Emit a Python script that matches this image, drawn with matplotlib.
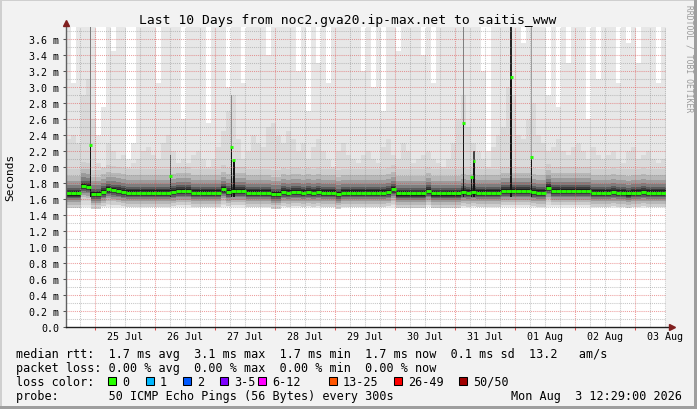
import numpy as np
import matplotlib.pyplot as plt
from matplotlib.patches import Rectangle
from matplotlib.lines import Line2D

W, H = 697, 410
DPI = 100

# canvas position in pixels (rrdtool layout)
PX_LEFT, PX_RIGHT, PX_TOP, PX_BOTTOM = 66, 666, 28, 328

HOURS = 240          # last 10 days
BIN_HOURS = 2
Y_MAX = 3.75         # ms
first_midnight = 11.52   # hours after window start (Jul 24 12:29)

# median rtt per 2h bin (ms), one row per day of the window
median_rtt = [
    1.67, 1.67, 1.67, 1.76, 1.75, 1.66, 1.66, 1.69, 1.72, 1.71, 1.70, 1.69,
    1.68, 1.68, 1.68, 1.68, 1.68, 1.68, 1.68, 1.68, 1.68, 1.69, 1.70, 1.70,
    1.70, 1.68, 1.68, 1.68, 1.68, 1.68, 1.68, 1.72, 1.69, 1.70, 1.70, 1.70,
    1.68, 1.68, 1.68, 1.68, 1.68, 1.66, 1.66, 1.69, 1.68, 1.69, 1.69, 1.68,
    1.69, 1.68, 1.69, 1.68, 1.68, 1.68, 1.66, 1.68, 1.68, 1.68, 1.68, 1.68,
    1.68, 1.68, 1.68, 1.68, 1.69, 1.72, 1.67, 1.67, 1.67, 1.67, 1.67, 1.67,
    1.70, 1.67, 1.67, 1.67, 1.67, 1.67, 1.67, 1.69, 1.68, 1.69, 1.68, 1.68,
    1.68, 1.68, 1.68, 1.70, 1.70, 1.70, 1.70, 1.70, 1.70, 1.69, 1.68, 1.68,
    1.74, 1.70, 1.70, 1.70, 1.70, 1.70, 1.70, 1.70, 1.70, 1.68, 1.68, 1.68,
    1.68, 1.69, 1.68, 1.68, 1.67, 1.68, 1.68, 1.69, 1.68, 1.68, 1.68, 1.68,
]

# top of the outer smoke (max ping) per 2h bin (ms)
smoke_max = [
    3.75, 3.05, 3.75, 3.75, 3.75, 3.75, 2.40, 2.75, 3.75, 3.45, 3.75, 3.75,
    2.10, 2.30, 3.75, 3.75, 3.75, 3.75, 3.05, 3.75, 3.75, 3.75, 3.75, 2.60,
    3.75, 3.75, 3.75, 3.75, 2.55, 3.75, 3.75, 3.75, 3.00, 3.75, 3.75, 3.05,
    3.75, 3.75, 3.75, 3.75, 3.40, 3.75, 3.75, 3.75, 3.75, 3.75, 3.20, 3.75,
    2.70, 3.75, 3.30, 3.75, 3.05, 3.75, 3.75, 3.75, 3.75, 3.75, 3.75, 3.20,
    3.75, 3.00, 3.75, 2.70, 3.75, 3.75, 3.45, 3.75, 3.75, 3.75, 3.75, 3.40,
    3.75, 3.05, 3.75, 3.75, 3.75, 3.75, 3.75, 3.75, 3.75, 3.75, 3.75, 3.20,
    2.20, 3.75, 3.75, 3.75, 3.75, 3.75, 3.75, 3.55, 3.75, 3.75, 3.75, 3.75,
    2.90, 3.75, 2.75, 3.75, 3.30, 3.75, 3.75, 3.75, 2.60, 3.75, 3.10, 3.75,
    3.75, 3.75, 3.05, 3.75, 3.55, 3.75, 3.30, 3.75, 3.75, 3.75, 3.05, 3.75,
]

# top of the denser inner smoke per 2h bin (ms)
smoke_hi = [
    2.35, 2.40, 2.30, 2.90, 3.10, 2.60, 2.05, 2.00, 2.30, 2.20, 2.10, 2.15,
    2.00, 2.05, 2.10, 2.20, 2.25, 2.15, 2.10, 2.30, 2.40, 2.20, 2.05, 2.10,
    2.05, 2.15, 2.20, 2.10, 2.00, 2.10, 2.25, 2.45, 2.70, 2.90, 2.35, 2.10,
    2.20, 2.40, 2.30, 2.25, 2.50, 2.55, 2.40, 2.30, 2.45, 2.35, 2.20, 2.30,
    2.10, 2.25, 2.35, 2.20, 2.10, 2.00, 2.20, 2.30, 2.15, 2.10, 2.05, 2.15,
    2.20, 2.10, 2.05, 2.25, 2.35, 2.15, 2.10, 2.30, 2.20, 2.05, 2.10, 2.15,
    2.20, 2.10, 2.05, 2.00, 2.10, 2.30, 2.60, 2.90, 2.50, 2.30, 2.20, 2.10,
    2.00, 2.25, 2.40, 2.50, 3.00, 2.90, 2.40, 2.35, 2.60, 2.80, 2.40, 2.30,
    2.20, 2.25, 2.35, 2.20, 2.15, 2.25, 2.30, 2.20, 2.10, 2.25, 2.15, 2.10,
    2.15, 2.20, 2.10, 2.05, 2.20, 2.25, 2.10, 2.15, 2.20, 2.10, 2.05, 2.10,
]
smoke_floor = 1.50

# short latency spikes (hours after window start)
spike_hours = [9.8, 41.8, 66.2, 67.1, 159.0, 162.2, 163.2, 178.0, 186.2]
spike_median = [2.28, 1.89, 2.25, 2.09, 2.55, 1.87, 2.07, 3.13, 2.12]
spike_top = [3.75, 2.15, 2.90, 2.09, 3.75, 1.87, 2.20, 3.75, 3.75]
spike_shade = ['#7a7a7a', '#555555', '#8a8a8a', '#333333', '#808080',
               '#333333', '#444444', '#262626', '#a0a0a0']

day_labels = ['25 Jul', '26 Jul', '27 Jul', '28 Jul', '29 Jul',
              '30 Jul', '31 Jul', '01 Aug', '02 Aug', '03 Aug']

loss_labels = ['0', '1', '2', '3-5', '6-12', '13-25', '26-49', '50/50']
loss_colors = ['#26ff00', '#00b8ff', '#0059ff', '#7e00ff',
               '#ff00ff', '#ff5500', '#ff0000', '#a10000']

GREEN = '#26ff00'
MONO = 'DejaVu Sans Mono'

# inner smoke bands around the median: (below, above, colour)
SMOKE_CORE = [
    (-0.18, 0.30, '#cecece'),
    (-0.14, 0.22, '#b8b8b8'),
    (-0.11, 0.16, '#9c9c9c'),
    (-0.08, 0.11, '#7e7e7e'),
    (-0.06, 0.07, '#5c5c5c'),
    (-0.04, 0.045, '#3a3a3a'),
    (-0.028, 0.028, '#1e1e1e'),
]


def px(x, y):
    return x / W, 1 - y / H


fig = plt.figure(figsize=(W / DPI, H / DPI), dpi=DPI, facecolor='#f2f2f2')
ax = fig.add_axes([PX_LEFT / W, 1 - PX_BOTTOM / H,
                   (PX_RIGHT - PX_LEFT) / W, (PX_BOTTOM - PX_TOP) / H])
ax.set_facecolor('white')
ax.set_xlim(0, HOURS)
ax.set_ylim(0, Y_MAX)

med = np.array(median_rtt)
top = np.array(smoke_max)
hi = np.minimum(np.array(smoke_hi), top)
edges = np.arange(len(med) + 1) * BIN_HOURS


def stairs(v):
    return np.append(v, v[-1])


ax.fill_between(edges, smoke_floor, stairs(top), step='post',
                color='#e7e7e7', lw=0, zorder=1)
ax.fill_between(edges, smoke_floor + 0.03, stairs(hi), step='post',
                color='#dadada', lw=0, zorder=1)
for lo, up, c in SMOKE_CORE:
    ax.fill_between(edges, stairs(med + lo), stairs(med + up), step='post',
                    color=c, lw=0, zorder=1)

sw = 0.7
for h, v, t, c in zip(spike_hours, spike_median, spike_top, spike_shade):
    if t > v:
        ax.bar(h, t - v, bottom=v, width=sw, color=c, lw=0, zorder=1.5)
    ax.bar(h, v - 1.62, bottom=1.62, width=sw, color='#151515', lw=0, zorder=1.5)
    ax.hlines(v, h - 0.6, h + 0.6, colors=GREEN, lw=2.1, zorder=4)

ax.hlines(med, edges[:-1], edges[1:], colors=GREEN, lw=2.1, zorder=4)

# grid (dotted, drawn over the smoke like rrdtool)
dots = (0, (1, 1))
for k in range(1, 38):
    v = k * 0.1
    if k % 2 == 0:
        ax.axhline(v, color='#de4f4f', alpha=0.55, lw=0.75, ls=dots, zorder=2.5)
    else:
        ax.axhline(v, color='#8f8f8f', alpha=0.5, lw=0.75, ls=dots, zorder=2.5)
for k in range(-1, 40):
    h = first_midnight + 6 * k
    if 0 < h < HOURS:
        if k % 4 == 0:
            ax.axvline(h, color='#de4f4f', alpha=0.55, lw=0.75, ls=dots, zorder=2.5)
        else:
            ax.axvline(h, color='#8f8f8f', alpha=0.5, lw=0.75, ls=dots, zorder=2.5)

# axes, ticks, labels
for s in ax.spines.values():
    s.set_visible(False)
ax.add_line(Line2D([0, 0], [0, 1.013], transform=ax.transAxes, color='#606060',
                   lw=1, clip_on=False, zorder=5))
ax.add_line(Line2D([0, 1.008], [0, 0], transform=ax.transAxes, color='#1f1f1f',
                   lw=1, clip_on=False, zorder=5))
ax.plot([0], [1.012], marker='^', ms=4, color='#801f1f', transform=ax.transAxes,
        clip_on=False, zorder=6)
ax.plot([1.010], [0], marker='>', ms=4, color='#801f1f', transform=ax.transAxes,
        clip_on=False, zorder=6)

yt = np.arange(0, 3.61, 0.2)
ax.set_yticks(yt)
ax.set_yticklabels(['0.0'] + [f'{v:.1f} m' for v in yt[1:]],
                   fontfamily=MONO, fontsize=7.2)
ax.tick_params(axis='y', length=2, width=0.75, color='#555555', pad=3)
day_ticks = [first_midnight + 24 * k for k in range(10)]
ax.set_xticks(day_ticks)
ax.set_xticklabels([])
ax.tick_params(axis='x', length=2, width=0.75, color='#de4f4f')

for k, lab in enumerate(day_labels):
    ax.text(first_midnight + 12 + 24 * k, -8.5 / 300, lab,
            transform=ax.get_xaxis_transform(), ha='center', va='center',
            fontfamily=MONO, fontsize=7.2)

fig.text(*px(348, 24), 'Last 10 Days from noc2.gva20.ip-max.net to saitis_www',
         ha='center', va='baseline', fontfamily=MONO, fontsize=9.4)
fig.text(*px(10, 177), 'Seconds', rotation=90, ha='center', va='center',
         fontfamily=MONO, fontsize=8)
fig.text(*px(689, 5), 'RRDTOOL / TOBI OETIKER', rotation=270, ha='center',
         va='top', fontfamily=MONO, fontsize=5.8, color='#9a9a9a')

# legend block
LX = 16
rows = [
    'median rtt:  1.7 ms avg  3.1 ms max  1.7 ms min  1.7 ms now  0.1 ms sd  13.2   am/s',
    'packet loss: 0.00 % avg  0.00 % max  0.00 % min  0.00 % now',
    'loss color:',
    'probe:       50 ICMP Echo Pings (56 Bytes) every 300s',
]
baselines = [358, 372, 386, 400]
for txt, yb in zip(rows, baselines):
    fig.text(*px(LX, yb), txt, ha='left', va='baseline', fontfamily=MONO,
             fontsize=8.5)
fig.text(*px(682, 400), 'Mon Aug  3 12:29:00 2026', ha='right', va='baseline',
         fontfamily=MONO, fontsize=8.5)

box_x = [108, 145.5, 183, 220, 257.5, 328.5, 393.5, 458.5]
for bx, lab, c in zip(box_x, loss_labels, loss_colors):
    x0, y0 = px(bx, 386)
    fig.add_artist(Rectangle((x0, y0), 8 / W, 8 / H, transform=fig.transFigure,
                             facecolor=c, edgecolor='black', lw=0.75))
    fig.text(*px(bx + 14.5, 386), lab, ha='left', va='baseline',
             fontfamily=MONO, fontsize=8.5)

# 3d frame
fig.add_artist(Rectangle((0, 1 - 2 / H), 1, 2 / H, transform=fig.transFigure,
                         facecolor='#cfcfcf', lw=0))
fig.add_artist(Rectangle((0, 0), 2 / W, 1, transform=fig.transFigure,
                         facecolor='#cfcfcf', lw=0))
fig.add_artist(Rectangle((1 - 3 / W, 0), 3 / W, 1, transform=fig.transFigure,
                         facecolor='#9e9e9e', lw=0))
fig.add_artist(Rectangle((0, 0), 1, 3 / H, transform=fig.transFigure,
                         facecolor='#9e9e9e', lw=0))

fig.savefig('out.png', dpi=DPI, facecolor=fig.get_facecolor())
